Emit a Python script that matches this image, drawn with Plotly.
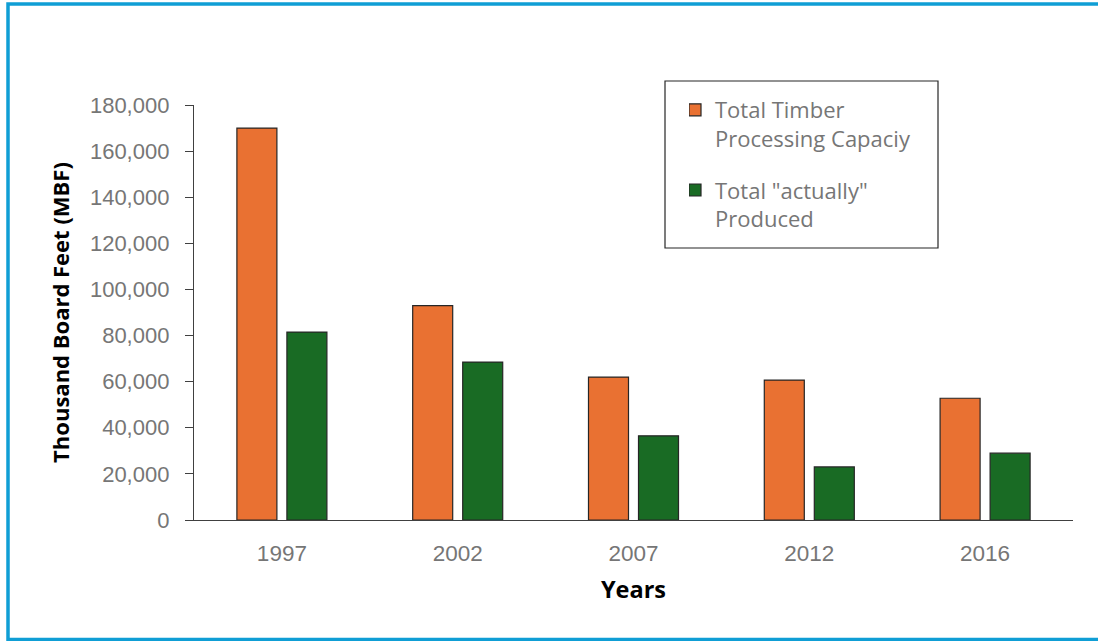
import plotly.graph_objects as go

# Timber processing capacity vs. actual production (thousand board feet)
years = ["1997", "2002", "2007", "2012", "2016"]
capacity = [170000, 93000, 62000, 60700, 52800]
produced = [81500, 68500, 36500, 23000, 29000]
y_ticks = [0, 20000, 40000, 60000, 80000, 100000, 120000, 140000, 160000, 180000]

ORANGE = "#E97132"
GREEN = "#196B24"
EDGE = "#262626"
GRAY_TEXT = "#767676"
FRAME = "#0F9ED5"

W, H = 1098, 641
L, R, T, B = 194, 25, 105, 121
PW, PH = W - L - R, H - T - B


def px_to_paper(x, y):
    return (x - L) / PW, (H - B - y) / PH


fig = go.Figure()
fig.add_bar(
    x=years, y=capacity, name="Total Timber<br>Processing Capaciy",
    marker=dict(color=ORANGE, line=dict(color=EDGE, width=1.2)),
    legendgroup="a",
)
fig.add_bar(
    x=years, y=produced, name="Total \"actually\"<br>Produced",
    marker=dict(color=GREEN, line=dict(color=EDGE, width=1.2)),
    legendgroup="b",
)

# legend frame
lx0, ly0 = px_to_paper(665, 81)
lx1, ly1 = px_to_paper(938, 248)
fig.add_shape(type="rect", xref="paper", yref="paper", x0=lx0, y0=ly1, x1=lx1, y1=ly0,
              line=dict(color="#262626", width=1.2), fillcolor="white", layer="above")

# outer frame of the chart area
fx0, fy0 = px_to_paper(8, 4)
fx1, fy1 = px_to_paper(1110, 639.5)
fig.add_shape(type="rect", xref="paper", yref="paper", x0=fx0, y0=fy1, x1=fx1, y1=fy0,
              line=dict(color=FRAME, width=3.5), fillcolor="rgba(0,0,0,0)", layer="above")

legx, legy = px_to_paper(689, 89)

fig.update_layout(
    width=W, height=H,
    margin=dict(l=L, r=R, t=T, b=B, autoexpand=False),
    paper_bgcolor="white", plot_bgcolor="white",
    barmode="group", bargap=0.431, bargroupgap=0.2,
    showlegend=True,
    legend=dict(
        x=legx, y=legy, xanchor="left", yanchor="top",
        bgcolor="rgba(0,0,0,0)", borderwidth=0,
        font=dict(family="Open Sans", size=22, color=GRAY_TEXT),
        valign="top", tracegroupgap=20, traceorder="grouped",
        indentation=-14,
    ),
    xaxis=dict(
        type="category", showline=True, linecolor="#404040", linewidth=1.3,
        ticks="", showgrid=False,
        tickfont=dict(family="Liberation Sans", size=22.5, color=GRAY_TEXT),
        ticklabelstandoff=13,
        title=dict(text="<b>Years</b>", standoff=16,
                   font=dict(family="Open Sans", size=23.5, color="#000000")),
    ),
    yaxis=dict(
        range=[0, 180000], tickvals=y_ticks, tickformat=",d",
        showline=True, linecolor="#404040", linewidth=1.3,
        ticks="outside", ticklen=8, tickcolor="#404040", tickwidth=1.3,
        showgrid=False, zeroline=False,
        tickfont=dict(family="Liberation Sans", size=22, color=GRAY_TEXT),
        ticklabelstandoff=11,
        title=dict(text="<b>Thousand Board Feet (MBF)</b>", standoff=14,
                   font=dict(family="Open Sans", size=22, color="#000000")),
    ),
)

fig.write_html("out.html")
